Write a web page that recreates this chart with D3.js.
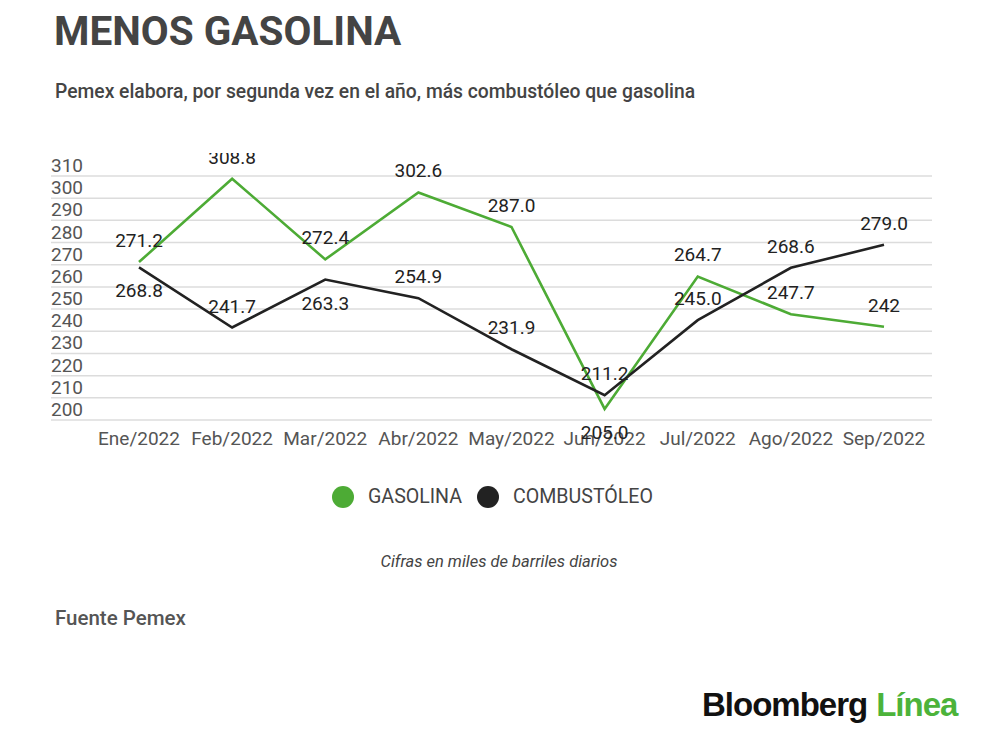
<!DOCTYPE html>
<html>
<head>
<meta charset="utf-8">
<script src="https://cdn.jsdelivr.net/npm/d3@7"></script>
<style>
  body { margin: 0; background: #fff; }
  svg { display: block; font-family: Roboto, "Noto Sans", sans-serif; }
</style>
</head>
<body>
<svg id="chart" width="1000" height="745"></svg>
<script>
// chart data
var months = ['Ene/2022', 'Feb/2022', 'Mar/2022', 'Abr/2022', 'May/2022', 'Jun/2022', 'Jul/2022', 'Ago/2022', 'Sep/2022'];
var gasolina = [271.2, 308.8, 272.4, 302.6, 287.0, 205.0, 264.7, 247.7, 242];
var gasolinaLabels = ['271.2', '308.8', '272.4', '302.6', '287.0', '205.0', '264.7', '247.7', '242'];
var combustoleo = [268.8, 241.7, 263.3, 254.9, 231.9, 211.2, 245.0, 268.6, 279.0];
var combustoleoLabels = ['268.8', '241.7', '263.3', '254.9', '231.9', '211.2', '245.0', '268.6', '279.0'];
var yTicks = [200, 210, 220, 230, 240, 250, 260, 270, 280, 290, 300, 310];

var green = '#4dab35', dark = '#222';

var svg = d3.select('#chart');

// titles
svg.append('text').attr('x', 54).attr('y', 45)
  .style('font-size', '40.5px').style('font-weight', 700).style('fill', '#444')
  .text('MENOS GASOLINA');
svg.append('text').attr('x', 55).attr('y', 98)
  .style('font-size', '19.3px').style('font-weight', 500).style('fill', '#444')
  .text('Pemex elabora, por segunda vez en el año, más combustóleo que gasolina');

var x = d3.scalePoint().domain(months).range([139, 884]);
var y = d3.scaleLinear().domain([200, 310]).range([420, 176]);

// grid + y labels
svg.append('g').selectAll('line').data(yTicks).enter().append('line')
  .attr('x1', 51).attr('x2', 932)
  .attr('y1', function (d) { return y(d); })
  .attr('y2', function (d) { return y(d); })
  .style('stroke', '#dcdcdc').style('stroke-width', 1.5);
svg.append('g').selectAll('text').data(yTicks).enter().append('text')
  .attr('x', 51).attr('y', function (d) { return y(d) - 4; })
  .style('font-size', '19px').style('fill', '#555')
  .text(function (d) { return d; });

// x labels
svg.append('g').selectAll('text').data(months).enter().append('text')
  .attr('x', function (d) { return x(d); }).attr('y', 445)
  .attr('text-anchor', 'middle')
  .style('font-size', '19px').style('fill', '#555')
  .text(function (d) { return d; });

svg.append('clipPath').attr('id', 'plotclip').append('rect')
  .attr('x', 0).attr('y', 153).attr('width', 1000).attr('height', 400);

var plot = svg.append('g').attr('clip-path', 'url(#plotclip)');

var line = d3.line()
  .x(function (d, i) { return x(months[i]); })
  .y(function (d) { return y(d); });

plot.append('path').datum(gasolina).attr('d', line)
  .style('fill', 'none').style('stroke', green).style('stroke-width', 2.6);
plot.append('path').datum(combustoleo).attr('d', line)
  .style('fill', 'none').style('stroke', dark).style('stroke-width', 2.6);

// value labels; a few sit under their point
var series = [
  { values: gasolina, labels: gasolinaLabels, below: [5] },
  { values: combustoleo, labels: combustoleoLabels, below: [0, 2] }
];
series.forEach(function (s) {
  plot.append('g').selectAll('text').data(s.values).enter().append('text')
    .attr('x', function (d, i) { return x(months[i]); })
    .attr('y', function (d, i) { return s.below.indexOf(i) >= 0 ? y(d) + 30 : y(d) - 15; })
    .attr('text-anchor', 'middle')
    .style('font-size', '19px').style('fill', '#222')
    .text(function (d, i) { return s.labels[i]; });
});

// legend
var legend = [{ name: 'GASOLINA', color: green, cx: 343 }, { name: 'COMBUSTÓLEO', color: dark, cx: 488 }];
var lg = svg.append('g').selectAll('g').data(legend).enter().append('g');
lg.append('circle').attr('cx', function (d) { return d.cx; }).attr('cy', 497).attr('r', 11)
  .style('fill', function (d) { return d.color; });
lg.append('text').attr('x', function (d) { return d.cx + 25; }).attr('y', 503)
  .style('font-size', '19.6px').style('fill', '#444')
  .text(function (d) { return d.name; });

svg.append('text').attr('x', 499).attr('y', 567).attr('text-anchor', 'middle')
  .style('font-size', '16.5px').style('font-style', 'italic').style('fill', '#444')
  .text('Cifras en miles de barriles diarios');

svg.append('text').attr('x', 55).attr('y', 625)
  .style('font-size', '20.5px').style('font-weight', 500).style('fill', '#555')
  .text('Fuente Pemex');

// logo
var logo = svg.append('text').attr('x', 702).attr('y', 716)
  .style('font-family', '"Liberation Sans", Arial, sans-serif')
  .style('font-size', '33px').style('font-weight', 700).style('letter-spacing', '-1px');
logo.append('tspan').style('fill', '#111').text('Bloomberg');
logo.append('tspan').attr('dx', 9).style('fill', '#4cb33a').text('Línea');
</script>
</body>
</html>
